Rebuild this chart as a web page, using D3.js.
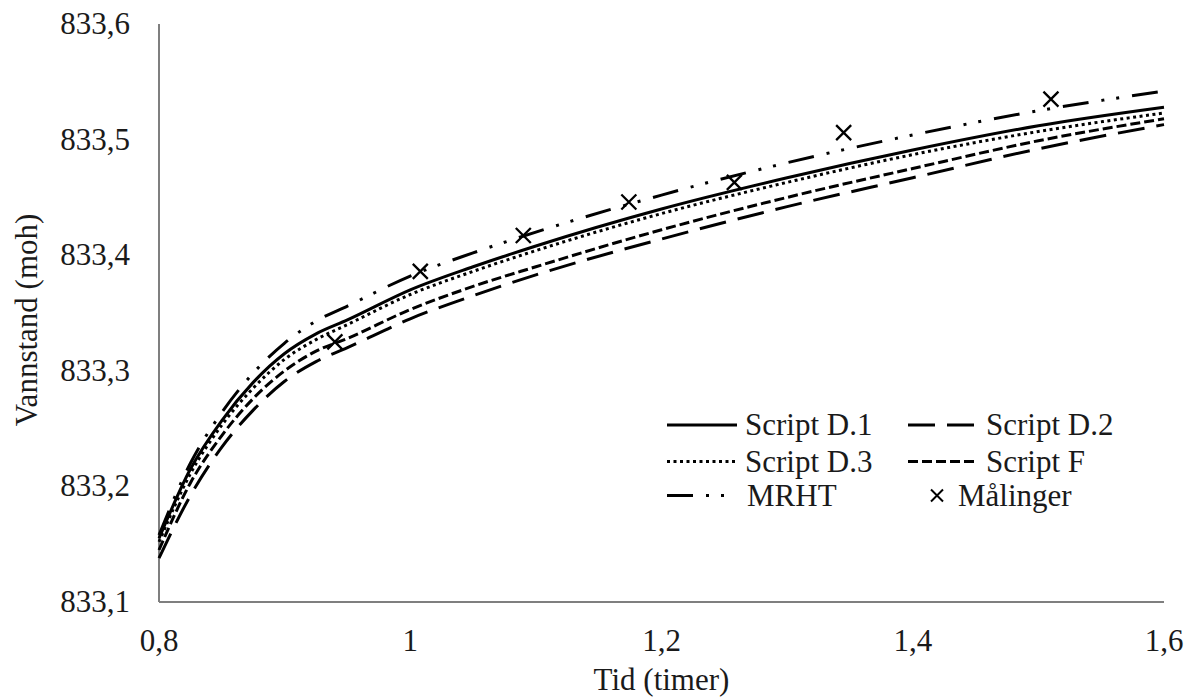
<!DOCTYPE html>
<html>
<head>
<meta charset="utf-8">
<script src="https://cdn.jsdelivr.net/npm/d3@7"></script>
</head>
<body style="margin:0;background:#fff">
<svg id="chart" width="1191" height="697" style="display:block"></svg>
<script>
// Time axis (hours) shared by the simulated series
const timeGrid = [0.8, 0.825, 0.85, 0.875, 0.9, 0.925, 0.95, 1.0, 1.05, 1.1, 1.2, 1.3, 1.4, 1.5, 1.6];

// Simulated water level (moh)
const scriptD1 = [833.155, 833.215, 833.257, 833.290, 833.315, 833.332, 833.344, 833.370, 833.390, 833.408, 833.440, 833.467, 833.491, 833.512, 833.528];
const scriptD2 = [833.138, 833.192, 833.234, 833.266, 833.291, 833.308, 833.320, 833.345, 833.365, 833.383, 833.414, 833.442, 833.467, 833.492, 833.513];
const scriptD3 = [833.152, 833.211, 833.253, 833.285, 833.310, 833.327, 833.340, 833.366, 833.386, 833.404, 833.436, 833.463, 833.487, 833.507, 833.523];
const scriptF  = [833.145, 833.203, 833.244, 833.276, 833.300, 833.317, 833.328, 833.353, 833.373, 833.390, 833.422, 833.450, 833.475, 833.499, 833.518];
const mrht     = [833.158, 833.220, 833.264, 833.298, 833.324, 833.343, 833.356, 833.382, 833.402, 833.420, 833.452, 833.480, 833.504, 833.525, 833.542];

// Measured water level
const measuredTime  = [0.940, 1.008, 1.090, 1.174, 1.258, 1.345, 1.510];
const measuredLevel = [833.325, 833.386, 833.417, 833.446, 833.463, 833.506, 833.535];

// Axis ticks and labels
const xTicks = [0.8, 1.0, 1.2, 1.4, 1.6];
const xTickLabels = ["0,8", "1", "1,2", "1,4", "1,6"];
const yTicks = [833.1, 833.2, 833.3, 833.4, 833.5, 833.6];
const yTickLabels = ["833,1", "833,2", "833,3", "833,4", "833,5", "833,6"];

const seriesNames = ["Script D.1", "Script D.2", "Script D.3", "Script F", "MRHT"];
const seriesValues = [scriptD1, scriptD2, scriptD3, scriptF, mrht];
const measuredName = "Målinger";

// Line styles per series (same order as seriesNames)
const seriesDash = [null, "27,12", "3,3.5", "10,4", "26,13,3,12,3,13"];

const W = 1191, H = 697;
const margin = { top: 24, right: 27, bottom: 95, left: 159 };
const FONT = "Liberation Serif";
const fontSize = 31;
const textColor = "#1a1a1a";

const svg = d3.select("#chart");

// Writes a text element in the chart's serif face
function addText(parent, str) {
  return parent.append("text")
    .attr("font-family", FONT)
    .attr("font-size", fontSize)
    .attr("fill", textColor)
    .text(str);
}

const x = d3.scaleLinear().domain([0.8, 1.6]).range([margin.left, W - margin.right]);
const y = d3.scaleLinear().domain([833.1, 833.6]).range([H - margin.bottom, margin.top]);

// Grey spines without tick marks
const gx = svg.append("g");
const gy = svg.append("g");
gx.append("path")
  .attr("d", `M${x.range()[0]},${y.range()[0]}H${x.range()[1]}`)
  .attr("stroke", "#7f7f7f").attr("stroke-width", 2).attr("fill", "none");
gy.append("path")
  .attr("d", `M${x.range()[0]},${y.range()[0]}V${y.range()[1]}`)
  .attr("stroke", "#7f7f7f").attr("stroke-width", 2).attr("fill", "none");

// Tick labels placed by the scales
xTicks.forEach((t, i) => {
  addText(gx, xTickLabels[i])
    .attr("x", x(t))
    .attr("y", y.range()[0] + 49)
    .attr("text-anchor", "middle");
});
yTicks.forEach((t, i) => {
  addText(gy, yTickLabels[i])
    .attr("x", x.range()[0] - 29)
    .attr("y", y(t))
    .attr("dy", "0.32em")
    .attr("text-anchor", "end");
});

// Axis titles
addText(svg, "Tid (timer)")
  .attr("x", (x.range()[0] + x.range()[1]) / 2)
  .attr("y", 690)
  .attr("text-anchor", "middle");

addText(svg, "Vannstand (moh)")
  .attr("transform", "translate(37,320) rotate(-90)")
  .attr("text-anchor", "middle");

// Series lines
const line = d3.line()
  .x((d, i) => x(timeGrid[i]))
  .y(d => y(d))
  .curve(d3.curveMonotoneX);

const plot = svg.append("g");
seriesValues.forEach((vals, k) => {
  plot.append("path")
    .datum(vals)
    .attr("fill", "none")
    .attr("stroke", "#000")
    .attr("stroke-width", 3)
    .attr("stroke-dasharray", seriesDash[k])
    .attr("d", line);
});

// Cross markers for measurements
function crossPath(cx, cy, r) {
  return `M${cx - r},${cy - r}L${cx + r},${cy + r}M${cx - r},${cy + r}L${cx + r},${cy - r}`;
}
plot.selectAll(".meas")
  .data(measuredTime.map((t, i) => [t, measuredLevel[i]]))
  .join("path")
  .attr("class", "meas")
  .attr("fill", "none")
  .attr("stroke", "#000")
  .attr("stroke-width", 2.3)
  .attr("d", d => crossPath(x(d[0]), y(d[1]), 7.5));

// Legend: two columns, three rows
const legendRows = [425, 461.5, 495.5];
const legendCols = [667, 908];
const sampleLen = 70;
const legendItems = [
  { name: seriesNames[0], dash: seriesDash[0], col: 0, row: 0 },
  { name: seriesNames[1], dash: seriesDash[1], col: 1, row: 0 },
  { name: seriesNames[2], dash: seriesDash[2], col: 0, row: 1 },
  { name: seriesNames[3], dash: seriesDash[3], col: 1, row: 1 },
  { name: seriesNames[4], dash: seriesDash[4], col: 0, row: 2 }
];
const legend = svg.append("g");
legendItems.forEach(it => {
  const lx = legendCols[it.col], ly = legendRows[it.row];
  legend.append("line")
    .attr("x1", lx).attr("x2", lx + sampleLen)
    .attr("y1", ly).attr("y2", ly)
    .attr("stroke", "#000").attr("stroke-width", 3)
    .attr("stroke-dasharray", it.dash);
  addText(legend, it.name)
    .attr("x", it.name === "MRHT" ? lx + 80 : lx + 78)
    .attr("y", ly + 10);
});
// Measurement entry
legend.append("path")
  .attr("fill", "none").attr("stroke", "#000").attr("stroke-width", 2)
  .attr("d", crossPath(937, legendRows[2], 6));
addText(legend, measuredName)
  .attr("x", 958)
  .attr("y", legendRows[2] + 10);
</script>
</body>
</html>
